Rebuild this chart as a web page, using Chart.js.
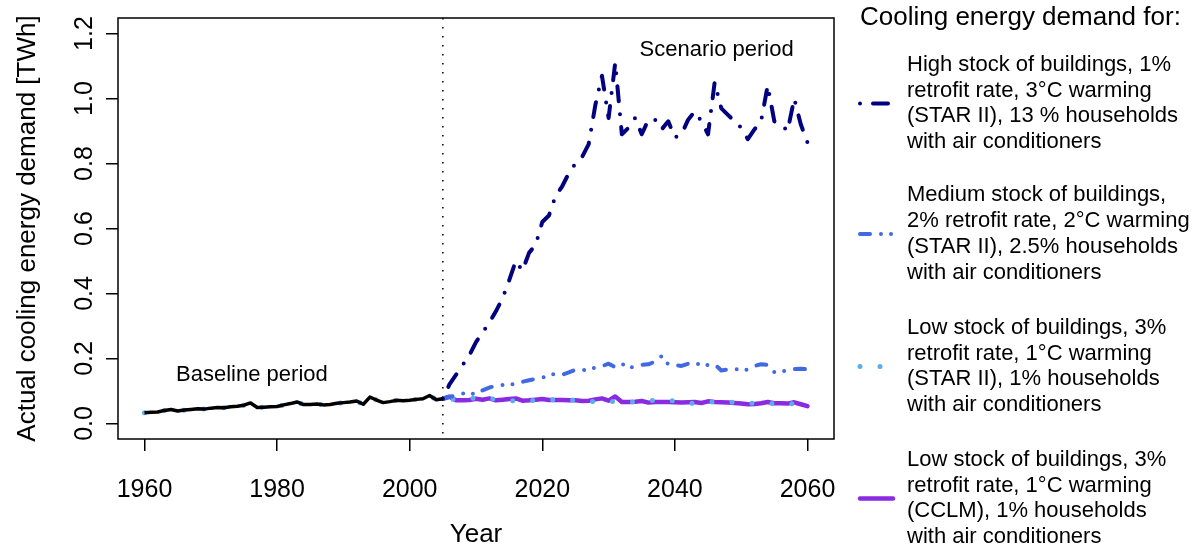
<!DOCTYPE html>
<html>
<head>
<meta charset="utf-8">
<script src="https://cdn.jsdelivr.net/npm/chart.js@4.4.1/dist/chart.umd.min.js"></script>
<style>
  html, body { margin: 0; padding: 0; background: #fff; }
  canvas { display: block; }
</style>
</head>
<body>
<canvas id="coolingChart" width="1198" height="549"></canvas>
<script>
// Años: periodo de referencia y periodo de escenarios
const baselineStart = 1960;
const scenarioStart = 2005;
const baselineYears = Array.from({ length: 46 }, (_, i) => baselineStart + i);
const scenarioYears = Array.from({ length: 56 }, (_, i) => scenarioStart + i);

// Demanda observada 1960-2005 [TWh]
const baselineValues = [
  0.033, 0.034, 0.035, 0.040, 0.043, 0.038, 0.041, 0.043, 0.045, 0.044,
  0.047, 0.049, 0.048, 0.051, 0.053, 0.056, 0.063, 0.049, 0.050, 0.051,
  0.052, 0.057, 0.061, 0.066, 0.058, 0.058, 0.060, 0.057, 0.058, 0.062,
  0.064, 0.066, 0.069, 0.059, 0.081, 0.072, 0.064, 0.067, 0.071, 0.070,
  0.071, 0.074, 0.076, 0.086, 0.073, 0.076
];

// Escenarios 2005-2060 [TWh]
const highStarValues = [
  0.076, 0.12, 0.15, 0.18, 0.21, 0.25, 0.28, 0.31, 0.345, 0.385,
  0.44, 0.50, 0.47, 0.525, 0.55, 0.62, 0.64, 0.70, 0.73, 0.77,
  0.80, 0.82, 0.86, 0.98, 1.07, 0.94, 1.11, 0.89, 0.91, 0.94,
  0.89, 0.935, 0.935, 0.905, 0.93, 0.88, 0.89, 0.935, 0.96, 0.93,
  0.89, 1.05, 0.97, 0.95, 0.93, 0.91, 0.875, 0.905, 0.93, 1.04,
  0.93, 0.92, 0.90, 1.0, 0.92, 0.865
];
const mediumStarValues = [
  0.076, 0.082, 0.086, 0.092, 0.095, 0.088, 0.102, 0.110, 0.116, 0.118,
  0.119, 0.122, 0.128, 0.133, 0.137, 0.141, 0.148, 0.153, 0.150, 0.157,
  0.165, 0.163, 0.167, 0.172, 0.176, 0.184, 0.173, 0.184, 0.170, 0.176,
  0.180, 0.182, 0.190, 0.207, 0.182, 0.180, 0.177, 0.184, 0.189, 0.177,
  0.180, 0.182, 0.163, 0.166, 0.169, 0.163, 0.166, 0.177, 0.182, 0.180,
  0.158, 0.160, 0.163, 0.167, 0.168, 0.167
];
const lowStarValues = [
  0.076, 0.074, 0.074, 0.076, 0.077, 0.078, 0.074, 0.076, 0.075, 0.072,
  0.070, 0.069, 0.070, 0.070, 0.071, 0.072, 0.073, 0.073, 0.072, 0.073,
  0.072, 0.070, 0.067, 0.068, 0.069, 0.067, 0.068, 0.066, 0.065, 0.066,
  0.068, 0.070, 0.071, 0.071, 0.072, 0.068, 0.064, 0.061, 0.063, 0.064,
  0.065, 0.066, 0.066, 0.066, 0.065, 0.063, 0.062, 0.062, 0.062, 0.061,
  0.062, 0.062, 0.061, 0.060, 0.060, 0.058
];
const lowCclmValues = [
  0.076, 0.082, 0.071, 0.071, 0.072, 0.076, 0.073, 0.077, 0.071, 0.073,
  0.075, 0.077, 0.070, 0.071, 0.073, 0.075, 0.072, 0.072, 0.072, 0.071,
  0.071, 0.069, 0.070, 0.074, 0.077, 0.070, 0.083, 0.066, 0.066, 0.067,
  0.069, 0.064, 0.066, 0.066, 0.066, 0.065, 0.064, 0.065, 0.066, 0.063,
  0.068, 0.066, 0.065, 0.064, 0.063, 0.061, 0.059, 0.060, 0.062, 0.066,
  0.062, 0.062, 0.061, 0.065, 0.059, 0.053
];

// Ejes
const xTicks = [1960, 1980, 2000, 2020, 2040, 2060];
const yTicks = [0.0, 0.2, 0.4, 0.6, 0.8, 1.0, 1.2];
const yTickLabels = ['0.0', '0.2', '0.4', '0.6', '0.8', '1.0', '1.2'];

const legendTitle = 'Cooling energy demand for:';
const legendLabels = [
  ['High stock of buildings, 1%', 'retrofit rate, 3°C warming', '(STAR II), 13 % households', 'with air conditioners'],
  ['Medium stock of buildings,', '2% retrofit rate, 2°C warming', '(STAR II), 2.5% households', 'with air conditioners'],
  ['Low stock of buildings, 3%', 'retrofit rate, 1°C warming', '(STAR II), 1% households', 'with air conditioners'],
  ['Low stock of buildings, 3%', 'retrofit rate, 1°C warming', '(CCLM), 1% households', 'with air conditioners']
];

const FONT = "'Liberation Sans', Arial, Helvetica, sans-serif";
const toPoints = (years, values) => years.map((x, i) => ({ x, y: values[i] }));

// Serie común: referencia + escenario (azul claro)
const lowStarPoints = toPoints(baselineYears.slice(0, -1), baselineValues.slice(0, -1))
  .concat(toPoints(scenarioYears, lowStarValues));

const lineBase = {
  pointRadius: 0,
  pointHoverRadius: 0,
  tension: 0,
  fill: false,
  borderCapStyle: 'round',
  borderJoinStyle: 'round'
};

// El primer dataset se dibuja encima
const datasets = [
  { ...lineBase, label: 'Baseline', data: toPoints(baselineYears, baselineValues),
    borderColor: '#000000', borderWidth: 3.5, borderCapStyle: 'butt' },
  { ...lineBase, label: legendLabels[0].join(' '), data: toPoints(scenarioYears, highStarValues),
    borderColor: '#000080', borderWidth: 4, borderDash: [0, 13, 15, 13], inLegend: 0 },
  { ...lineBase, label: legendLabels[1].join(' '), data: toPoints(scenarioYears, mediumStarValues),
    borderColor: '#4169E1', borderWidth: 4, borderDash: [10, 11, 0, 10, 0, 11], inLegend: 1 },
  { ...lineBase, label: legendLabels[2].join(' '), data: lowStarPoints,
    borderColor: '#5CACEE', borderWidth: 5, borderDash: [0, 20], inLegend: 2 },
  { ...lineBase, label: legendLabels[3].join(' '), data: toPoints(scenarioYears, lowCclmValues),
    borderColor: '#8A2BE2', borderWidth: 4.5, inLegend: 3 }
];

// Marco, textos de ejes, anotaciones y leyenda
const decorations = {
  id: 'decorations',
  beforeDatasetsDraw(chart) {
    const { ctx, chartArea: a, scales: { x } } = chart;
    const px = x.getPixelForValue(scenarioStart);
    ctx.save();
    ctx.strokeStyle = '#000';
    ctx.lineWidth = 1.5;
    ctx.setLineDash([1.5, 7.5]);
    ctx.beginPath();
    ctx.moveTo(px, a.top);
    ctx.lineTo(px, a.bottom);
    ctx.stroke();
    ctx.restore();
  },
  afterDraw(chart) {
    const { ctx, chartArea: a, scales: { x, y } } = chart;
    ctx.save();
    ctx.strokeStyle = '#000';
    ctx.lineWidth = 1.5;
    ctx.strokeRect(a.left, a.top, a.right - a.left, a.bottom - a.top);

    ctx.fillStyle = '#000';
    // etiquetas eje X
    ctx.font = `25px ${FONT}`;
    ctx.textAlign = 'center';
    ctx.textBaseline = 'middle';
    xTicks.forEach(v => ctx.fillText(String(v), x.getPixelForValue(v), 490));

    // etiquetas eje Y (giradas)
    yTicks.forEach((v, i) => {
      ctx.save();
      ctx.translate(85, y.getPixelForValue(v));
      ctx.rotate(-Math.PI / 2);
      ctx.fillText(yTickLabels[i], 0, 0);
      ctx.restore();
    });

    // títulos de ejes
    ctx.font = `26px ${FONT}`;
    ctx.fillText('Year', (a.left + a.right) / 2, 535);
    ctx.save();
    ctx.translate(28, (a.top + a.bottom) / 2);
    ctx.rotate(-Math.PI / 2);
    ctx.fillText('Actual cooling energy demand [TWh]', 0, 0);
    ctx.restore();

    // anotaciones de periodos
    ctx.font = `22px ${FONT}`;
    ctx.fillText('Baseline period', x.getPixelForValue(1976.2), y.getPixelForValue(0.148));
    ctx.fillText('Scenario period', x.getPixelForValue(2046.3), y.getPixelForValue(1.149));

    // leyenda
    ctx.textAlign = 'left';
    ctx.font = `26px ${FONT}`;
    ctx.fillText(legendTitle, 860, 18);
    ctx.font = `22px ${FONT}`;
    const centers = [103.5, 234, 366.5, 498.5];
    const lineGap = 25.8;
    chart.data.datasets.forEach(ds => {
      if (ds.inLegend === undefined) return;
      const cy = centers[ds.inLegend];
      ctx.save();
      ctx.strokeStyle = ds.borderColor;
      ctx.lineWidth = ds.borderWidth;
      ctx.lineCap = ds.borderCapStyle;
      ctx.setLineDash(ds.borderDash || []);
      ctx.beginPath();
      ctx.moveTo(860, cy);
      ctx.lineTo(893, cy);
      ctx.stroke();
      ctx.restore();
      legendLabels[ds.inLegend].forEach((line, k) => {
        ctx.fillText(line, 907, cy + (k - 1.5) * lineGap);
      });
    });
    ctx.restore();
  }
};

new Chart(document.getElementById('coolingChart'), {
  type: 'line',
  data: { datasets },
  options: {
    responsive: false,
    animation: false,
    events: [],
    layout: { padding: { top: 18, right: 364, left: 0, bottom: 0 } },
    plugins: { legend: { display: false }, tooltip: { enabled: false } },
    scales: {
      x: {
        type: 'linear',
        min: 1956,
        max: 2064,
        afterBuildTicks: s => { s.ticks = xTicks.map(value => ({ value })); },
        afterFit: s => { s.height = 110; },
        ticks: { display: false },
        border: { display: false },
        grid: { drawOnChartArea: false, drawTicks: true, tickLength: 12, color: '#000', lineWidth: 1.5 }
      },
      y: {
        type: 'linear',
        min: -0.048,
        max: 1.248,
        afterBuildTicks: s => { s.ticks = yTicks.map(value => ({ value })); },
        afterFit: s => { s.width = 118; },
        ticks: { display: false },
        border: { display: false },
        grid: { drawOnChartArea: false, drawTicks: true, tickLength: 12, color: '#000', lineWidth: 1.5 }
      }
    }
  },
  plugins: [decorations]
});
</script>
</body>
</html>
